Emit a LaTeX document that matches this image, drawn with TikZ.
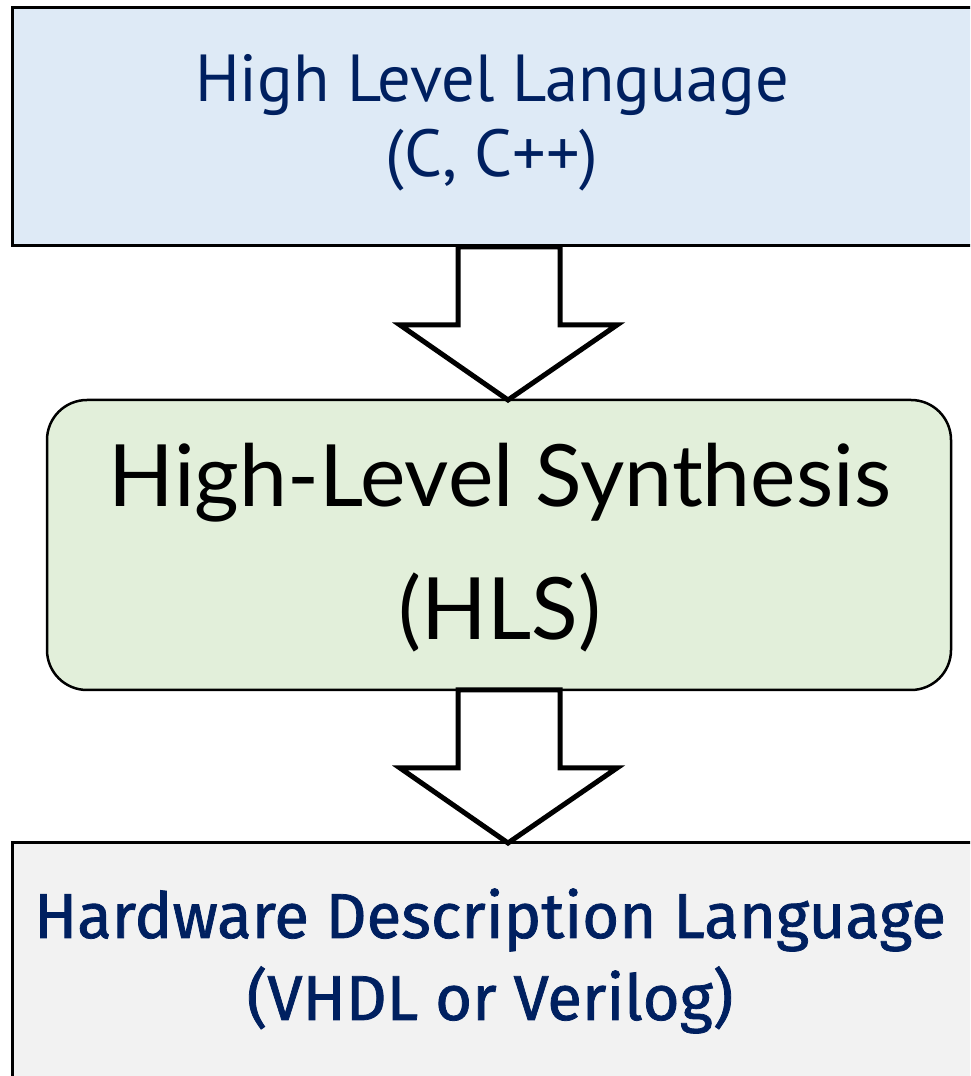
\documentclass[tikz,border=0pt]{standalone}
\usepackage{fontspec}
\usetikzlibrary{calc}
\setmainfont{Liberation Sans}
\newfontfamily\topfont{PT Sans}
\newfontfamily\midfont{Lato}
\newfontfamily\botfont[FakeBold=1.2]{Fira Sans}
\definecolor{navy}{HTML}{002060}
\definecolor{topfill}{HTML}{DEEAF6}
\definecolor{midfill}{HTML}{E2EFDA}
\definecolor{botfill}{HTML}{F2F2F2}
\tikzset{
  boxline/.style={draw=black, line width=3pt},
  blockarrow/.style={draw=black, fill=white, line width=5pt, line join=miter},
  toptext/.style={inner sep=0pt, anchor=base, text=navy, font=\topfont\fontsize{66.5}{66.5}\selectfont},
  midtext/.style={inner sep=0pt, anchor=base, text=black, font=\midfont\fontsize{86}{86}\selectfont},
  bottext/.style={inner sep=0pt, anchor=base, text=navy, font=\botfont\fontsize{63.5}{63.5}\selectfont},
}
\begin{document}
\begin{tikzpicture}[x=1pt,y=1pt]
\useasboundingbox (0,0) rectangle (970,1076);
\clip (0,0) rectangle (970,1076);
% boxes
\draw[boxline, fill=topfill] (12,1068) rectangle (990,830);
\coordinate (topS) at (508,830);
\draw[line width=2.5pt, fill=midfill, rounded corners=40pt] (47,676) rectangle (951,386);
\coordinate (midN) at (508,676);
\coordinate (midS) at (508,386);
\draw[boxline, fill=botfill] (12,233) rectangle (990,-20);
\coordinate (botN) at (508,233);
% texts
\node[toptext] (t1) at (492,974) {High Level Language};
\node[toptext] (t2) at (492,899) {(C, C++)};
\node[midtext] (m1) at (500,569) {High-Level Synthesis};
\node[midtext] (m2) at (500,436) {(HLS)};
\node[bottext] (b1) at (490,138) {Hardware Description Language};
\node[bottext] (b2) at (490,56) {(VHDL or Verilog)};
% arrows
\draw[blockarrow] ($(topS)+(-50,-1)$) -- ($(topS)+(52,-1)$) -- ($(topS)+(52,-79)$) -- ($(topS)+(109,-79)$)
  -- (midN) -- ($(topS)+(-108,-79)$) -- ($(topS)+(-50,-79)$) -- cycle;
\draw[blockarrow] ($(midS)+(-50,0)$) -- ($(midS)+(52,0)$) -- ($(midS)+(52,-78)$) -- ($(midS)+(109,-78)$)
  -- (botN) -- ($(midS)+(-108,-78)$) -- ($(midS)+(-50,-78)$) -- cycle;
\end{tikzpicture}
\end{document}
